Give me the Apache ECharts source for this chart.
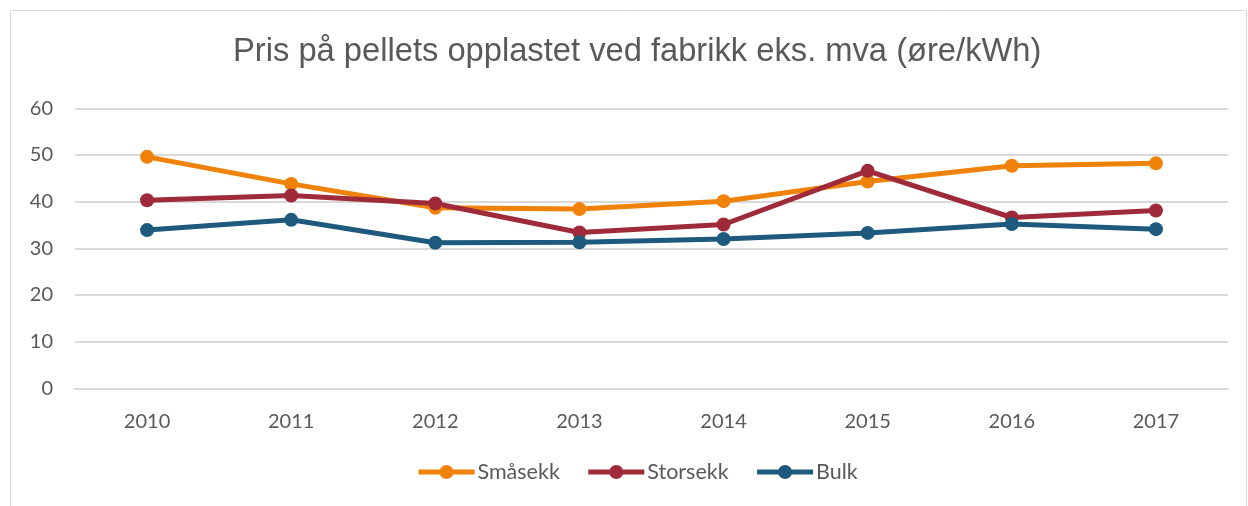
<!DOCTYPE html>
<html><head><meta charset="utf-8">
<script src="https://cdn.jsdelivr.net/npm/echarts@6/dist/echarts.min.js"></script>
<style>html,body{margin:0;padding:0;background:#fff}#c{width:1248px;height:506px}</style>
</head><body><div id="c"></div>
<script>
const years = ['2010','2011','2012','2013','2014','2015','2016','2017'];
const smasekk = [49.6, 43.8, 38.7, 38.4, 40.1, 44.3, 47.7, 48.2];
const storsekk = [40.3, 41.3, 39.6, 33.4, 35.1, 46.6, 36.6, 38.1];
const bulk = [33.9, 36.1, 31.2, 31.3, 32.0, 33.3, 35.2, 34.1];
const colors = ['#F08209', '#9E2A3A', '#1E5A7D'];
const chart = echarts.init(document.getElementById('c'));
function s(name, data, color){
  return {name, type:'line', data, symbol:'circle', symbolSize:14,
    lineStyle:{width:5, color}, itemStyle:{color}};
}
chart.setOption({
  animation:false,
  graphic:[{type:'rect', shape:{x:10.5,y:10.5,width:1236,height:500}, style:{fill:'none', stroke:'#d9d9d9', lineWidth:1}}],
  title:{text:'Pris på pellets opplastet ved fabrikk eks. mva (øre/kWh)', left:228, top:30,
    textStyle:{fontFamily:'Liberation Sans', fontSize:32.7, fontWeight:'normal', color:'#595959'}},
  grid:{left:75, right:20, top:108.3, bottom:117.7},
  legend:{top:456, left:411, itemWidth:56, itemHeight:17.5, itemGap:26,
    lineStyle:{width:5},
    textStyle:{fontFamily:'Lato', fontSize:21.5, color:'#595959', padding:[0,0,0,-2]},
    data:['Småsekk','Storsekk','Bulk']},
  xAxis:{type:'category', data:years, boundaryGap:true,
    axisLine:{show:true, lineStyle:{color:'#d9d9d9', width:2}}, axisTick:{show:false},
    axisLabel:{fontFamily:'Lato', fontSize:20, color:'#595959', margin:23}},
  yAxis:{type:'value', min:0, max:60, interval:10,
    axisLine:{show:false}, axisTick:{show:false},
    splitLine:{lineStyle:{color:'#d9d9d9', width:2}},
    axisLabel:{fontFamily:'Lato', fontSize:20, color:'#595959', margin:22}},
  series:[s('Småsekk', smasekk, colors[0]), s('Storsekk', storsekk, colors[1]), s('Bulk', bulk, colors[2])]
});
</script></body></html>
